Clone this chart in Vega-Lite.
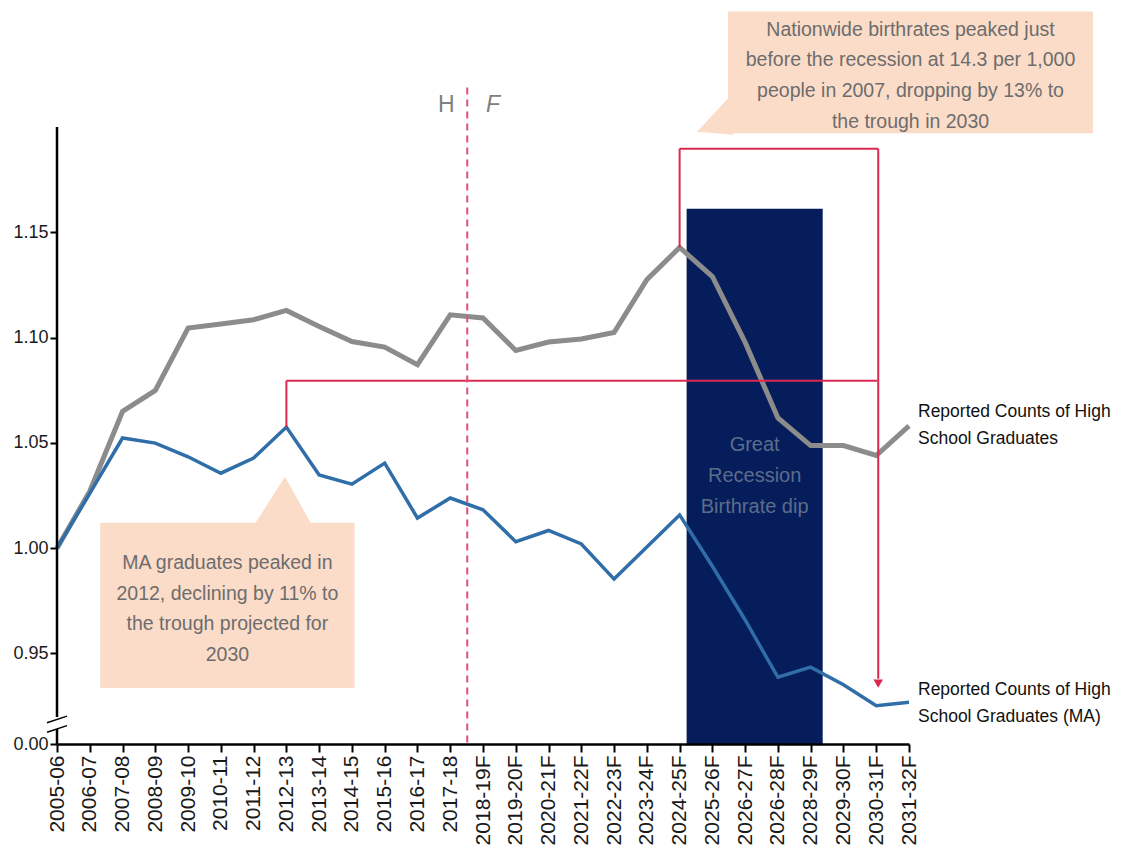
{
  "$schema": "https://vega.github.io/schema/vega-lite/v6.json",
  "width": 852,
  "height": 617,
  "autosize": {"type": "none"},
  "padding": {"left": 57, "top": 127, "right": 217, "bottom": 110},
  "background": "white",
  "config": {"view": {"stroke": null}, "font": "Liberation Sans"},
  "datasets": {
    "national": [
      {"year": "2005-06", "value": 1.000},
      {"year": "2006-07", "value": 1.027},
      {"year": "2007-08", "value": 1.0649},
      {"year": "2008-09", "value": 1.0749},
      {"year": "2009-10", "value": 1.1045},
      {"year": "2010-11", "value": 1.1064},
      {"year": "2011-12", "value": 1.1085},
      {"year": "2012-13", "value": 1.1129},
      {"year": "2013-14", "value": 1.1053},
      {"year": "2014-15", "value": 1.0981},
      {"year": "2015-16", "value": 1.0955},
      {"year": "2016-17", "value": 1.0871},
      {"year": "2017-18", "value": 1.1108},
      {"year": "2018-19F", "value": 1.1093},
      {"year": "2019-20F", "value": 1.0939},
      {"year": "2020-21F", "value": 1.0979},
      {"year": "2021-22F", "value": 1.0993},
      {"year": "2022-23F", "value": 1.1024},
      {"year": "2023-24F", "value": 1.1275},
      {"year": "2024-25F", "value": 1.1428},
      {"year": "2025-26F", "value": 1.1290},
      {"year": "2026-27F", "value": 1.0977},
      {"year": "2026-28F", "value": 1.0618},
      {"year": "2028-29F", "value": 1.0487},
      {"year": "2029-30F", "value": 1.0487},
      {"year": "2030-31F", "value": 1.0440},
      {"year": "2031-32F", "value": 1.0581}
    ],
    "ma": [
      {"year": "2005-06", "value": 1.000},
      {"year": "2006-07", "value": 1.026},
      {"year": "2007-08", "value": 1.0523},
      {"year": "2008-09", "value": 1.0499},
      {"year": "2009-10", "value": 1.0434},
      {"year": "2010-11", "value": 1.0356},
      {"year": "2011-12", "value": 1.0428},
      {"year": "2012-13", "value": 1.0575},
      {"year": "2013-14", "value": 1.0348},
      {"year": "2014-15", "value": 1.0304},
      {"year": "2015-16", "value": 1.0404},
      {"year": "2016-17", "value": 1.0143},
      {"year": "2017-18", "value": 1.0238},
      {"year": "2018-19F", "value": 1.0182},
      {"year": "2019-20F", "value": 1.0031},
      {"year": "2020-21F", "value": 1.0084},
      {"year": "2021-22F", "value": 1.0020},
      {"year": "2022-23F", "value": 0.9853},
      {"year": "2023-24F", "value": 1.0005},
      {"year": "2024-25F", "value": 1.0158},
      {"year": "2025-26F", "value": 0.9914},
      {"year": "2026-27F", "value": 0.9659},
      {"year": "2026-28F", "value": 0.9387},
      {"year": "2028-29F", "value": 0.9435},
      {"year": "2029-30F", "value": 0.9351},
      {"year": "2030-31F", "value": 0.9252},
      {"year": "2031-32F", "value": 0.9268}
    ]
  },
  "layer": [
    {
      "data": {"values": [{}]},
      "mark": {"type": "rect", "color": "#061d5b", "xOffset": 7, "x2Offset": 12},
      "encoding": {
        "x": {
          "datum": "2024-25F",
          "type": "ordinal",
          "scale": {"type": "point", "padding": 0, "domain": ["2005-06","2006-07","2007-08","2008-09","2009-10","2010-11","2011-12","2012-13","2013-14","2014-15","2015-16","2016-17","2017-18","2018-19F","2019-20F","2020-21F","2021-22F","2022-23F","2023-24F","2024-25F","2025-26F","2026-27F","2026-28F","2028-29F","2029-30F","2030-31F","2031-32F"]},
          "axis": {"title": null, "labelAngle": -90, "labelFontSize": 21, "labelColor": "#1a1a1a", "labelPadding": 3, "tickSize": 8, "tickWidth": 2, "tickColor": "#000000", "domainColor": "#000000", "domainWidth": 2.5, "grid": false}
        },
        "x2": {"datum": "2028-29F"},
        "y": {
          "datum": 1.1612,
          "type": "quantitative",
          "scale": {"domain": [0.907, 1.2], "nice": false, "zero": false},
          "axis": {"title": null, "values": [0.907, 0.95, 1, 1.05, 1.1, 1.15], "labelExpr": "datum.value < 0.93 ? '0.00' : format(datum.value, '.2f')", "domain": false, "tickSize": 7, "tickWidth": 2, "tickColor": "#000000", "labelFontSize": 18, "labelPadding": 2, "labelColor": "#1a1a1a", "grid": false}
        },
        "y2": {"datum": 0.907}
      }
    },
    {
      "data": {"values": [{}]},
      "mark": {"type": "rect", "color": "#fbdcc8", "xOffset": 10.5, "x2Offset": 2.6},
      "encoding": {
        "x": {"datum": "2006-07", "type": "ordinal"},
        "x2": {"datum": "2014-15"},
        "y": {"datum": 1.01202, "type": "quantitative"},
        "y2": {"datum": 0.93363}
      }
    },
    {
      "data": {"values": [{}]},
      "mark": {"type": "point", "shape": "M-0.047,-0.767L0.887,0.9L-1.113,0.9Z", "size": 3600, "filled": true, "color": "#fbdcc8", "opacity": 1, "strokeWidth": 0},
      "encoding": {
        "x": {"datum": "2012-13", "type": "ordinal"},
        "y": {"datum": 1.02295, "type": "quantitative"}
      }
    },
    {
      "data": {"values": [{}]},
      "mark": {"type": "rect", "color": "#fbdcc8", "xOffset": 15.6, "x2Offset": 184},
      "encoding": {
        "x": {"datum": "2025-26F", "type": "ordinal"},
        "x2": {"datum": "2031-32F"},
        "y": {"datum": 1.2548, "type": "quantitative"},
        "y2": {"datum": 1.19705}
      }
    },
    {
      "data": {"values": [{}]},
      "mark": {"type": "point", "shape": "M-0.513,0.567L0.7,-0.733L0.7,0.667Z", "size": 3600, "filled": true, "color": "#fbdcc8", "opacity": 1, "strokeWidth": 0},
      "encoding": {
        "x": {"datum": "2025-26F", "type": "ordinal"},
        "y": {"datum": 1.2058, "type": "quantitative"}
      }
    },
    {
      "data": {"values": [{}]},
      "mark": {"type": "text", "text": ["Great", "Recession", "Birthrate dip"], "fontSize": 20, "lineHeight": 31, "color": "#5b6d8c", "align": "center", "baseline": "middle", "dx": 9.5},
      "encoding": {
        "x": {"datum": "2026-27F", "type": "ordinal"},
        "y": {"datum": 1.04907, "type": "quantitative"}
      }
    },
    {
      "data": {"name": "national"},
      "mark": {"type": "line", "color": "#8c8c8c", "strokeWidth": 5},
      "encoding": {
        "x": {"field": "year", "type": "ordinal"},
        "y": {"field": "value", "type": "quantitative"}
      }
    },
    {
      "data": {"name": "ma"},
      "mark": {"type": "line", "color": "#2f6ea8", "strokeWidth": 3.5},
      "encoding": {
        "x": {"field": "year", "type": "ordinal"},
        "y": {"field": "value", "type": "quantitative"}
      }
    },
    {
      "data": {"values": [{}]},
      "mark": {"type": "rule", "color": "#dc2850", "strokeWidth": 2},
      "encoding": {
        "x": {"datum": "2012-13", "type": "ordinal"},
        "y": {"datum": 1.0575, "type": "quantitative"},
        "y2": {"datum": 1.0795}
      }
    },
    {
      "data": {"values": [{}]},
      "mark": {"type": "rule", "color": "#dc2850", "strokeWidth": 2, "x2Offset": 1},
      "encoding": {
        "x": {"datum": "2012-13", "type": "ordinal"},
        "x2": {"datum": "2030-31F"},
        "y": {"datum": 1.0795, "type": "quantitative"}
      }
    },
    {
      "data": {"values": [{}]},
      "mark": {"type": "rule", "color": "#dc2850", "strokeWidth": 2},
      "encoding": {
        "x": {"datum": "2024-25F", "type": "ordinal"},
        "y": {"datum": 1.1428, "type": "quantitative"},
        "y2": {"datum": 1.1897}
      }
    },
    {
      "data": {"values": [{}]},
      "mark": {"type": "rule", "color": "#dc2850", "strokeWidth": 2, "x2Offset": 2},
      "encoding": {
        "x": {"datum": "2024-25F", "type": "ordinal"},
        "x2": {"datum": "2030-31F"},
        "y": {"datum": 1.1897, "type": "quantitative"}
      }
    },
    {
      "data": {"values": [{}]},
      "mark": {"type": "rule", "color": "#dc2850", "strokeWidth": 2, "xOffset": 2},
      "encoding": {
        "x": {"datum": "2030-31F", "type": "ordinal"},
        "y": {"datum": 1.1897, "type": "quantitative"},
        "y2": {"datum": 0.938}
      }
    },
    {
      "data": {"values": [{}]},
      "mark": {"type": "point", "shape": "triangle-down", "size": 90, "filled": true, "color": "#dc2850", "opacity": 1, "xOffset": 2},
      "encoding": {
        "x": {"datum": "2030-31F", "type": "ordinal"},
        "y": {"datum": 0.9357, "type": "quantitative"}
      }
    },
    {
      "data": {"values": [{}]},
      "mark": {"type": "rule", "color": "#e0507a", "strokeWidth": 2, "strokeDash": [7, 5], "xOffset": 17},
      "encoding": {
        "x": {"datum": "2017-18", "type": "ordinal"},
        "y": {"datum": 1.2187, "type": "quantitative"},
        "y2": {"datum": 0.907}
      }
    },
    {
      "data": {"values": [{}]},
      "mark": {"type": "text", "text": "H", "fontSize": 23, "color": "#808080", "align": "center", "baseline": "middle", "dx": -4},
      "encoding": {
        "x": {"datum": "2017-18", "type": "ordinal"},
        "y": {"datum": 1.2106, "type": "quantitative"}
      }
    },
    {
      "data": {"values": [{}]},
      "mark": {"type": "text", "text": "F", "fontSize": 23, "fontStyle": "italic", "color": "#808080", "align": "center", "baseline": "middle", "dx": 10},
      "encoding": {
        "x": {"datum": "2018-19F", "type": "ordinal"},
        "y": {"datum": 1.2106, "type": "quantitative"}
      }
    },
    {
      "data": {"values": [{}]},
      "mark": {"type": "rule", "color": "#000000", "strokeWidth": 2.5},
      "encoding": {
        "x": {"datum": "2005-06", "type": "ordinal"},
        "y": {"datum": 1.2, "type": "quantitative"},
        "y2": {"datum": 0.91986}
      }
    },
    {
      "data": {"values": [{}]},
      "mark": {"type": "rule", "color": "#000000", "strokeWidth": 2.5},
      "encoding": {
        "x": {"datum": "2005-06", "type": "ordinal"},
        "y": {"datum": 0.91415, "type": "quantitative"},
        "y2": {"datum": 0.907}
      }
    },
    {
      "data": {"values": [{}]},
      "mark": {"type": "point", "shape": "M-1,0.33L1,-0.33", "size": 400, "filled": false, "color": "#000000", "opacity": 1, "strokeWidth": 1.5},
      "encoding": {
        "x": {"datum": "2005-06", "type": "ordinal"},
        "y": {"datum": 0.91867, "type": "quantitative"}
      }
    },
    {
      "data": {"values": [{}]},
      "mark": {"type": "point", "shape": "M-1,0.33L1,-0.33", "size": 400, "filled": false, "color": "#000000", "opacity": 1, "strokeWidth": 1.5},
      "encoding": {
        "x": {"datum": "2005-06", "type": "ordinal"},
        "y": {"datum": 0.91416, "type": "quantitative"}
      }
    },
    {
      "data": {"values": [{}]},
      "mark": {"type": "text", "text": ["Reported Counts of High", "School Graduates"], "fontSize": 17.5, "lineHeight": 27, "color": "#111111", "align": "left", "baseline": "middle", "dx": 9},
      "encoding": {
        "x": {"datum": "2031-32F", "type": "ordinal"},
        "y": {"datum": 1.06475, "type": "quantitative"}
      }
    },
    {
      "data": {"values": [{}]},
      "mark": {"type": "text", "text": ["Reported Counts of High", "School Graduates (MA)"], "fontSize": 17.5, "lineHeight": 27, "color": "#111111", "align": "left", "baseline": "middle", "dx": 9},
      "encoding": {
        "x": {"datum": "2031-32F", "type": "ordinal"},
        "y": {"datum": 0.93269, "type": "quantitative"}
      }
    },
    {
      "data": {"values": [{}]},
      "mark": {"type": "text", "text": ["MA graduates peaked in", "2012, declining by 11% to", "the trough projected for", "2030"], "fontSize": 19.5, "lineHeight": 30.7, "color": "#6d6d6d", "align": "center", "baseline": "middle", "dx": -59},
      "encoding": {
        "x": {"datum": "2012-13", "type": "ordinal"},
        "y": {"datum": 0.99302, "type": "quantitative"}
      }
    },
    {
      "data": {"values": [{}]},
      "mark": {"type": "text", "text": ["Nationwide birthrates peaked just", "before the recession at 14.3 per 1,000", "people in 2007, dropping by 13% to", "the trough in 2030"], "fontSize": 19.5, "lineHeight": 30.7, "color": "#6d6d6d", "align": "center", "baseline": "middle", "dx": 1.5},
      "encoding": {
        "x": {"datum": "2031-32F", "type": "ordinal"},
        "y": {"datum": 1.24622, "type": "quantitative"}
      }
    }
  ]
}
